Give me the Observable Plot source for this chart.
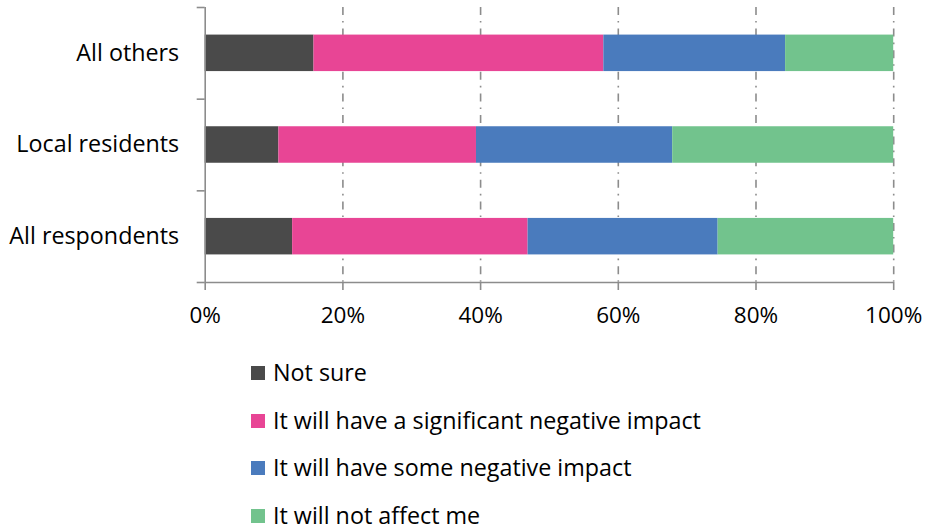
<!DOCTYPE html>
<html>
<head>
<meta charset="utf-8">
<script src="https://cdn.jsdelivr.net/npm/d3@7"></script>
<script src="https://cdn.jsdelivr.net/npm/@observablehq/plot@0.6"></script>
<style>
  body { margin: 0; background: #fff; font-family: "Open Sans", sans-serif; }
  #chart { width: 925px; height: 531px; position: relative; overflow: hidden; }
  .legend { margin-top: 9px; padding-left: 251px; }
  .item { height: 47.7px; line-height: 47.7px; font-size: 23.3px; color: #000; display: flex; align-items: center; white-space: nowrap; }
  .sw { width: 14px; height: 14px; margin-right: 8px; flex: none; }
</style>
</head>
<body>
<div id="chart"></div>
<script>
// Categories, top to bottom
const categories = ["All others", "Local residents", "All respondents"];
// Series (percent of respondents)
const seriesNames = [
  "Not sure",
  "It will have a significant negative impact",
  "It will have some negative impact",
  "It will not affect me"
];
const notSure        = [15.8, 10.7, 12.7];
const significantNeg = [42.1, 28.7, 34.2];
const someNeg        = [26.4, 28.5, 27.6];
const notAffect      = [15.7, 32.1, 25.5];
const colors = ["#4a4a4a", "#e84595", "#4a7bbd", "#72c38d"];
const xTicks = [0, 20, 40, 60, 80, 100];

const seriesValues = [notSure, significantNeg, someNeg, notAffect];
const rows = [];
categories.forEach((c, i) => {
  let acc = 0;
  seriesValues.forEach((vals, s) => {
    rows.push({cat: c, i, series: seriesNames[s], x1: acc, x2: acc + vals[i]});
    acc += vals[i];
  });
});

const axisColor = "#8c8c8c";
const H = 340;
const bandPx = (282 - 7) / categories.length;
const inset = (bandPx - 36.5) / 2;

const plot = Plot.plot({
  width: 925,
  height: H,
  marginLeft: 204.7,
  marginRight: 31.8,
  marginTop: 7,
  marginBottom: H - 282,
  style: {fontFamily: "Open Sans, sans-serif", fontSize: "22.5px", color: "#000", background: "#fff"},
  x: {domain: [0, 100]},
  y: {domain: [0, categories.length], reverse: true},
  color: {domain: seriesNames, range: colors},
  marks: [
    Plot.ruleX(xTicks.filter(d => d > 0), {stroke: axisColor, strokeWidth: 1.6, strokeDasharray: "8,6,1.6,6"}),
    Plot.rectX(rows, {x1: "x1", x2: "x2", y1: d => d.i, y2: d => d.i + 1, fill: "series", insetTop: inset, insetBottom: inset}),
    Plot.ruleX([0], {stroke: axisColor, strokeWidth: 1.6}),
    Plot.ruleY([categories.length], {stroke: axisColor, strokeWidth: 1.6}),
    Plot.axisX({ticks: xTicks, tickFormat: d => d + "%", tickSize: 8, tickPadding: 17, stroke: axisColor, strokeWidth: 1.6, fill: "#000", label: null}),
    Plot.axisY({ticks: d3.range(categories.length + 1), tickFormat: () => "", tickSize: 8, stroke: axisColor, strokeWidth: 1.6, label: null}),
    Plot.axisY({ticks: categories.map((c, i) => i + 0.5), tickFormat: t => categories[Math.floor(t)], tickSize: 0, tickPadding: 26, fill: "#000", fontSize: 23.3, label: null})
  ]
});

const chart = document.getElementById("chart");
chart.appendChild(plot);

const legend = document.createElement("div");
legend.className = "legend";
seriesNames.forEach((name, k) => {
  const it = document.createElement("div");
  it.className = "item";
  const sw = document.createElement("span");
  sw.className = "sw";
  sw.style.background = colors[k];
  const tx = document.createElement("span");
  tx.textContent = name;
  it.appendChild(sw);
  it.appendChild(tx);
  legend.appendChild(it);
});
chart.appendChild(legend);
</script>
</body>
</html>
